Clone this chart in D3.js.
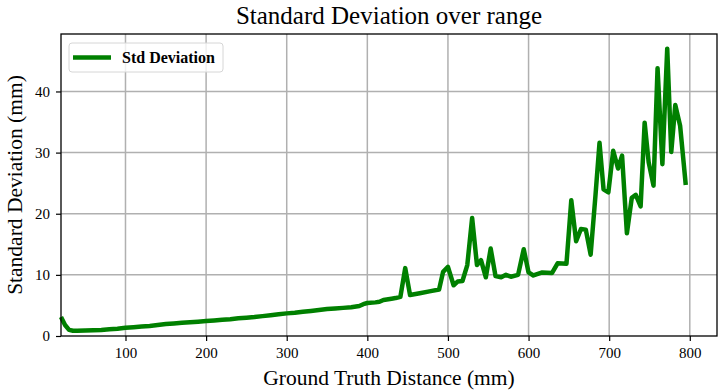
<!DOCTYPE html>
<html>
<head>
<meta charset="utf-8">
<style>
  body { margin: 0; background: #fff; }
  svg text { font-family: "Liberation Serif", "DejaVu Serif", serif; }
</style>
<title>Standard Deviation over range</title>
</head>
<body>
<script src="https://cdn.jsdelivr.net/npm/d3@7"></script>
<script>

// values
var distance = [20, 25, 30, 35, 40, 50, 60, 70, 80, 90, 100, 110, 120, 130, 140, 150, 160, 170, 180, 190,
  200, 210, 220, 230, 240, 250, 260, 270, 280, 290, 300, 310, 320, 330, 340, 350, 360, 370, 380, 390,
  395, 400, 410, 415, 420, 430, 435, 441, 447, 453, 465, 477, 489, 494, 500, 507, 512, 518, 524, 530,
  536, 541, 547, 553, 559, 566, 572, 578, 587, 594, 600, 606, 617, 629, 636, 647, 653, 659, 665, 671,
  677, 683, 688, 693, 699, 705, 711, 716, 722, 728, 733, 739, 744, 749, 755, 760, 766, 772, 777, 782,
  788, 795];
var stdDev = [3.1, 1.8, 1.0, 0.85, 0.85, 0.88, 0.93, 1.0, 1.1, 1.2, 1.35, 1.45, 1.55, 1.65, 1.8, 1.95, 2.05, 2.15, 2.25, 2.35,
  2.45, 2.55, 2.65, 2.75, 2.9, 3.0, 3.1, 3.25, 3.4, 3.55, 3.7, 3.8, 3.95, 4.1, 4.25, 4.4, 4.5, 4.6, 4.7, 4.9,
  5.2, 5.4, 5.5, 5.6, 5.9, 6.1, 6.2, 6.4, 11.1, 6.7, 7.0, 7.3, 7.6, 10.5, 11.3, 8.3, 8.9, 9.0, 11.6, 19.3,
  11.6, 12.4, 9.6, 14.3, 9.8, 9.6, 10.0, 9.7, 10.0, 14.2, 10.4, 9.9, 10.4, 10.3, 11.9, 11.8, 22.2, 15.5, 17.5, 17.4,
  13.3, 23.0, 31.6, 24.0, 23.5, 30.3, 27.4, 29.5, 16.8, 22.6, 23.1, 21.2, 34.9, 28.4, 24.6, 43.8, 28.1, 47.0, 30.1, 37.8,
  34.4, 24.7];
var xTicks = [100, 200, 300, 400, 500, 600, 700, 800];
var yTicks = [0, 10, 20, 30, 40];
var seriesName = "Std Deviation";

var width = 725, height = 390;
var margin = {top: 34, right: 8, bottom: 54, left: 61};
var w = width - margin.left - margin.right,
    h = height - margin.top - margin.bottom;

var data = distance.map(function(d, i) { return {x: d, y: stdDev[i]}; });

var svg = d3.select("body").append("svg")
    .attr("width", width)
    .attr("height", height);

var g = svg.append("g")
    .attr("transform", "translate(" + margin.left + "," + margin.top + ")");

var x = d3.scaleLinear()
    .domain([20, 833.75])
    .range([0, w]);

var y = d3.scaleLinear()
    .domain([0, 49.4])
    .range([h, 0]);

// grid
g.append("g").selectAll("line")
    .data(xTicks)
  .enter().append("line")
    .attr("x1", function(d) { return x(d); })
    .attr("x2", function(d) { return x(d); })
    .attr("y1", 0).attr("y2", h)
    .style("stroke", "#b0b0b0").style("stroke-width", 1.5);

g.append("g").selectAll("line")
    .data(yTicks.slice(1))
  .enter().append("line")
    .attr("x1", 0).attr("x2", w)
    .attr("y1", function(d) { return y(d); })
    .attr("y2", function(d) { return y(d); })
    .style("stroke", "#b0b0b0").style("stroke-width", 1.5);

// line
var line = d3.line()
    .x(function(d) { return x(d.x); })
    .y(function(d) { return y(d.y); });

g.append("path")
    .datum(data)
    .attr("d", line)
    .style("fill", "none")
    .style("stroke", "#008000")
    .style("stroke-width", 4.5)
    .style("stroke-linejoin", "round");

// frame
g.append("rect")
    .attr("width", w).attr("height", h)
    .style("fill", "none").style("stroke", "#000").style("stroke-width", 1.3);

// axes
var xAxis = g.append("g")
    .attr("transform", "translate(0," + h + ")")
    .call(d3.axisBottom(x).tickValues(xTicks).tickSize(5).tickPadding(6));
var yAxis = g.append("g")
    .call(d3.axisLeft(y).tickValues(yTicks).tickSize(5).tickPadding(6));

[xAxis, yAxis].forEach(function(a) {
  a.select(".domain").remove();
  a.selectAll("line").style("stroke", "#000").style("stroke-width", 1.2);
  a.selectAll("text")
    .style("font-family", "'Liberation Serif', serif")
    .style("font-size", "15px")
    .style("fill", "#000");
});

// title and labels
svg.append("text")
    .attr("x", margin.left + w / 2).attr("y", 24)
    .attr("text-anchor", "middle")
    .style("font-size", "25px")
    .text("Standard Deviation over range");

svg.append("text")
    .attr("x", margin.left + w / 2).attr("y", 385)
    .attr("text-anchor", "middle")
    .style("font-size", "21.5px")
    .text("Ground Truth Distance (mm)");

svg.append("text")
    .attr("transform", "translate(22," + (margin.top + h / 2) + ") rotate(-90)")
    .attr("text-anchor", "middle")
    .style("font-size", "21.5px")
    .text("Standard Deviation (mm)");

// legend
var leg = g.append("g").attr("transform", "translate(8,9)");
leg.append("rect")
    .attr("width", 154).attr("height", 29)
    .attr("rx", 3)
    .style("fill", "#fff").style("fill-opacity", 0.8)
    .style("stroke", "#d6d6d6");
leg.append("line")
    .attr("x1", 4).attr("x2", 42)
    .attr("y1", 14.5).attr("y2", 14.5)
    .style("stroke", "#008000").style("stroke-width", 4.5);
leg.append("text")
    .attr("x", 53).attr("y", 20)
    .style("font-size", "16px")
    .style("font-weight", "bold")
    .text(seriesName);

</script>
</body>
</html>
